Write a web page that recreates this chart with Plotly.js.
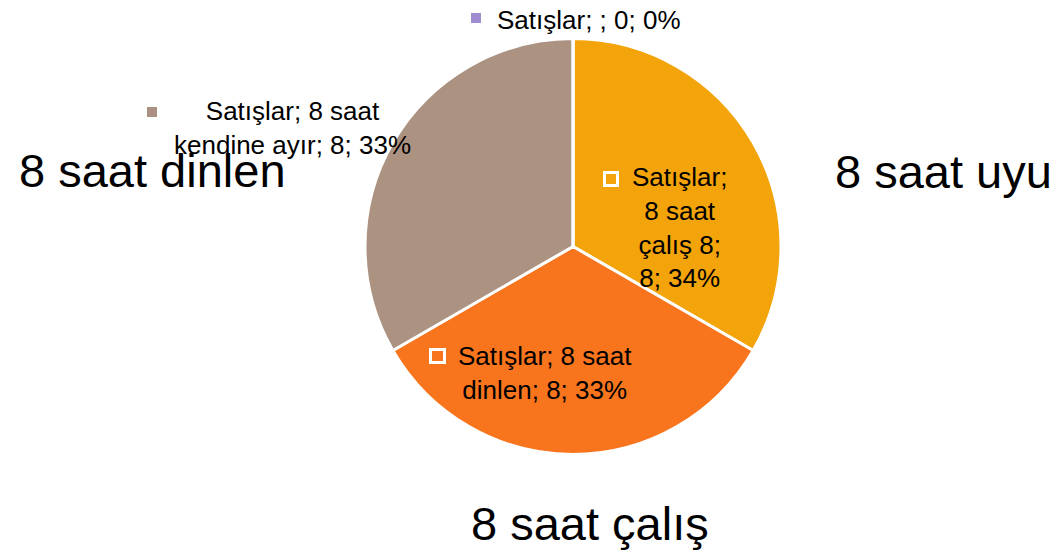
<!DOCTYPE html>
<html>
<head>
<meta charset="utf-8">
<script src="https://cdn.plot.ly/plotly-3.0.1.min.js"></script>
<style>html,body{margin:0;padding:0;background:#fff;}#chart{width:1058px;height:556px;}</style>
</head>
<body>
<div id="chart"></div>
<script>
// ---- data ----
const seriesName = "Satışlar";
const categories = ["8 saat çalış 8", "8 saat dinlen", "8 saat kendine ayır", ""];
const values = [8, 8, 8, 0];
const percentLabels = ["34%", "33%", "33%", "0%"];
const sideTitles = ["8 saat uyu", "8 saat dinlen", "8 saat çalış"];

// ---- helpers ----
const W = 1058, H = 556;
const px = x => x / W;
const py = y => 1 - y / H;
function wrap(str, maxLen) {
  const words = str.split(" ");
  const lines = [];
  let cur = "";
  words.forEach(w => {
    const next = cur === "" ? w : cur + " " + w;
    if (next.length > maxLen && cur !== "") { lines.push(cur); cur = w; }
    else cur = next;
  });
  if (cur !== "") lines.push(cur);
  return lines.join("<br>");
}
const labelText = i => seriesName + "; " + categories[i] + "; " + values[i] + "; " + percentLabels[i];

const sliceColors = ["#F3A40B", "#F8751E", "#AB9281", "#A08CD0"];

// pie geometry (pixels)
const cx = 573, cy = 246.5, R = 208;

const trace = {
  type: "pie",
  labels: categories.map((c, i) => c === "" ? "(boş)" : c),
  values: values,
  sort: false,
  direction: "clockwise",
  rotation: 0,
  textinfo: "none",
  hoverinfo: "none",
  showlegend: false,
  marker: { colors: sliceColors, line: { color: "#ffffff", width: 3 } },
  domain: { x: [px(cx - R), px(cx + R)], y: [py(cy + R), py(cy - R)] }
};

const labelFont = { family: "Liberation Sans, Arial, sans-serif", size: 26, color: "#000000" };
const bigFont = { family: "Liberation Sans, Arial, sans-serif", size: 47, color: "#000000" };

// label placement: [index, centerX, centerY, wrapWidth]
const labelPlace = [
  [0, 679, 227, 9],
  [1, 545, 373, 16],
  [2, 292, 128, 20],
  [3, 589, 20, 40]
];
const annotations = labelPlace.map(([i, x, y, w]) => ({
  text: wrap(labelText(i), w),
  x: px(x), y: py(y), xref: "paper", yref: "paper",
  xanchor: "center", yanchor: "middle", align: "center",
  showarrow: false, font: labelFont
}));

const titlePlace = [[943, 171], [152, 170], [590, 523]];
sideTitles.forEach((t, i) => annotations.push({
  text: t, x: px(titlePlace[i][0]), y: py(titlePlace[i][1]),
  xref: "paper", yref: "paper", xanchor: "center", yanchor: "middle",
  showarrow: false, font: bigFont
}));

// legend-key squares next to labels
function rectShape(x0, y0, x1, y1, fill, lineW) {
  return {
    type: "rect", xref: "paper", yref: "paper",
    x0: px(x0), x1: px(x1), y0: py(y1), y1: py(y0),
    fillcolor: fill,
    line: lineW ? { color: "#ffffff", width: lineW } : { width: 0 }
  };
}
const shapes = [
  rectShape(604.5, 172.5, 617.5, 185.5, sliceColors[0], 3),
  rectShape(430.5, 349.5, 444.5, 362.5, sliceColors[1], 3),
  rectShape(147, 107, 157, 117, sliceColors[2], 0),
  rectShape(471, 13, 481, 23, sliceColors[3], 0)
];

const layout = {
  width: W, height: H,
  margin: { l: 0, r: 0, t: 0, b: 0, pad: 0 },
  paper_bgcolor: "#ffffff", plot_bgcolor: "#ffffff",
  showlegend: false,
  annotations: annotations,
  shapes: shapes
};

Plotly.newPlot("chart", [trace], layout, { staticPlot: true, displayModeBar: false });
</script>
</body>
</html>
